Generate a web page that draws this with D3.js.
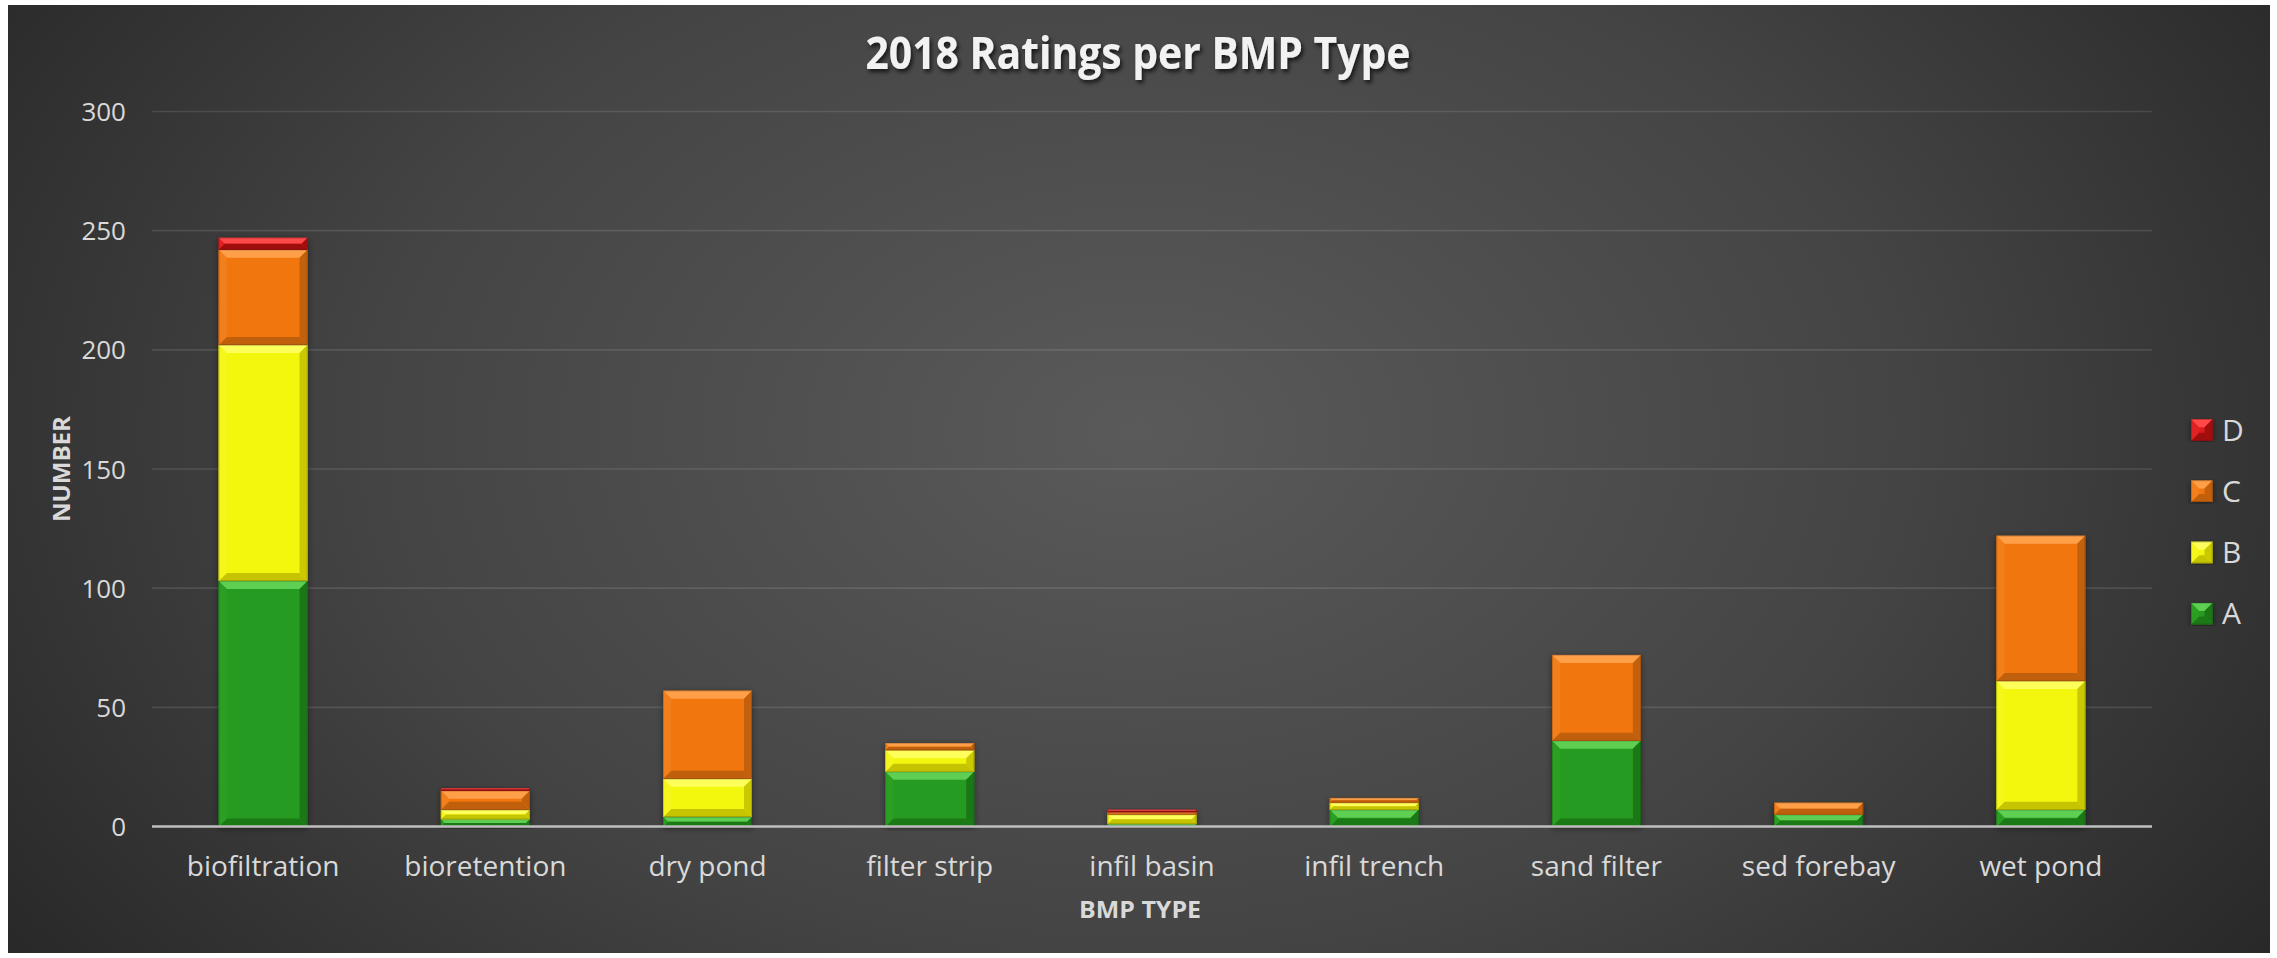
<!DOCTYPE html>
<html>
<head>
<meta charset="utf-8">
<title>2018 Ratings per BMP Type</title>
<script src="https://cdn.jsdelivr.net/npm/d3@7"></script>
<style>
  html, body { margin: 0; padding: 0; background: #ffffff; }
  svg { display: block; }
</style>
</head>
<body>
<svg id="chart" width="2277" height="958"></svg>
<script>
// Ratings counts per BMP type, one array per rating grade
const categories = ["biofiltration", "bioretention", "dry pond", "filter strip", "infil basin",
                    "infil trench", "sand filter", "sed forebay", "wet pond"];
const ratingA = [103, 3, 4, 23, 1, 7, 36, 5, 7];
const ratingB = [99, 4, 16, 9, 4, 3, 0, 0, 54];
const ratingC = [40, 8, 37, 3, 1, 2, 36, 5, 61];
const ratingD = [5, 1, 0, 0, 1, 0, 0, 0, 0];
const seriesNames = ["A", "B", "C", "D"];
const yTicks = [0, 50, 100, 150, 200, 250, 300];

// Bevel palette per grade: face, top, bottom, left, right
const palette = {
  A: { face: "#289b20", top: "#5ecf52", bottom: "#1f7a18", left: "#2a9f22", right: "#1e7817" },
  B: { face: "#f3f60a", top: "#ffff5c", bottom: "#c6c300", left: "#f5f71c", right: "#cac800" },
  C: { face: "#f07610", top: "#ffa04a", bottom: "#c0600c", left: "#f27e1a", right: "#c2600c" },
  D: { face: "#dc1a1c", top: "#ff4a4a", bottom: "#a00e10", left: "#e02224", right: "#a40f11" }
};

const W = 2277, H = 958;
const frame = { x: 8, y: 5, w: 2262, h: 948 };
const plot = { left: 152, right: 2152, top: 111.5, bottom: 826.5 };

const svg = d3.select("#chart");
const defs = svg.append("defs");

const bg = defs.append("radialGradient")
  .attr("id", "bgGrad")
  .attr("cx", "0.5").attr("cy", "0.45").attr("r", "0.62")
  .attr("gradientTransform", "translate(0.5,0.45) scale(1,1.6) translate(-0.5,-0.45)");
bg.append("stop").attr("offset", "0").attr("stop-color", "#5a5a5a");
bg.append("stop").attr("offset", "0.55").attr("stop-color", "#444444");
bg.append("stop").attr("offset", "1").attr("stop-color", "#272727");

const titleShadow = defs.append("filter").attr("id", "titleShadow")
  .attr("x", "-10%").attr("y", "-30%").attr("width", "120%").attr("height", "160%");
titleShadow.append("feDropShadow")
  .attr("dx", 2).attr("dy", 3).attr("stdDeviation", 2.2)
  .attr("flood-color", "#000").attr("flood-opacity", 0.7);

const barShadow = defs.append("filter").attr("id", "barShadow")
  .attr("x", "-20%").attr("y", "-5%").attr("width", "140%").attr("height", "110%");
barShadow.append("feDropShadow")
  .attr("dx", 0).attr("dy", 1.5).attr("stdDeviation", 3)
  .attr("flood-color", "#000").attr("flood-opacity", 0.45);

// Chart background
svg.append("rect")
  .attr("x", frame.x).attr("y", frame.y)
  .attr("width", frame.w).attr("height", frame.h)
  .attr("fill", "url(#bgGrad)");

// Scales
const x = d3.scaleBand()
  .domain(categories)
  .range([plot.left, plot.right])
  .paddingInner(0.6)
  .paddingOuter(0.3);

const y = d3.scaleLinear()
  .domain([0, 300])
  .range([plot.bottom, plot.top]);

// Gridlines
svg.append("g")
  .selectAll("line")
  .data(yTicks.filter(t => t > 0))
  .join("line")
  .attr("x1", plot.left).attr("x2", plot.right)
  .attr("y1", d => y(d)).attr("y2", d => y(d))
  .attr("stroke", "#ffffff").attr("stroke-opacity", 0.11)
  .attr("stroke-width", 1.6);

// Y axis tick labels
const yAxis = d3.axisLeft(y).tickValues(yTicks).tickSize(0).tickPadding(0);
const yAxisG = svg.append("g")
  .attr("transform", `translate(126,0)`)
  .call(yAxis);
yAxisG.select(".domain").remove();
yAxisG.selectAll("text")
  .attr("fill", "#d9d9d9")
  .attr("font-family", "'Open Sans', sans-serif")
  .attr("font-size", 26)
  .attr("dy", "0.35em");

// Stack the grades
const rows = categories.map((c, i) => ({
  category: c, A: ratingA[i], B: ratingB[i], C: ratingC[i], D: ratingD[i]
}));
const stacked = d3.stack().keys(seriesNames)(rows);

function beveled(g, x0, y0, w, h, col) {
  const x1 = x0 + w, y1 = y0 + h;
  const b = Math.max(0, Math.min(8, h / 2, w / 2));
  g.append("rect").attr("x", x0).attr("y", y0).attr("width", w).attr("height", h)
    .attr("fill", col.face);
  const poly = (pts, fill) => g.append("polygon")
    .attr("points", pts.map(p => p.join(",")).join(" "))
    .attr("fill", fill);
  poly([[x0, y0], [x1, y0], [x1 - b, y0 + b], [x0 + b, y0 + b]], col.top);
  poly([[x0, y1], [x1, y1], [x1 - b, y1 - b], [x0 + b, y1 - b]], col.bottom);
  poly([[x0, y0], [x0 + b, y0 + b], [x0 + b, y1 - b], [x0, y1]], col.left);
  poly([[x1, y0], [x1 - b, y0 + b], [x1 - b, y1 - b], [x1, y1]], col.right);
  g.append("rect").attr("x", x0 + 0.4).attr("y", y0 + 0.4)
    .attr("width", Math.max(0, w - 0.8)).attr("height", Math.max(0, h - 0.8))
    .attr("fill", "none").attr("stroke", "#000").attr("stroke-opacity", 0.2)
    .attr("stroke-width", 0.8);
}

// Bars
const barsG = svg.append("g");
categories.forEach((c, i) => {
  const colG = barsG.append("g").attr("filter", "url(#barShadow)");
  stacked.forEach(layer => {
    const seg = layer[i];
    const v = seg[1] - seg[0];
    if (v <= 0) return;
    const top = y(seg[1]), bot = y(seg[0]);
    beveled(colG, x(c), top, x.bandwidth(), bot - top, palette[layer.key]);
  });
});

// Category axis
svg.append("line")
  .attr("x1", plot.left).attr("x2", plot.right)
  .attr("y1", y(0)).attr("y2", y(0))
  .attr("stroke", "#bfbfbf").attr("stroke-width", 2.4);

const xAxis = d3.axisBottom(x).tickSize(0).tickPadding(0);
const xAxisG = svg.append("g")
  .attr("transform", `translate(0,${y(0)})`)
  .call(xAxis);
xAxisG.select(".domain").remove();
xAxisG.selectAll("text")
  .attr("fill", "#d9d9d9")
  .attr("font-family", "'Open Sans', sans-serif")
  .attr("font-size", 28)
  .attr("dy", "1.75em");

// Title
svg.append("text")
  .attr("x", 1138).attr("y", 69)
  .attr("text-anchor", "middle")
  .attr("fill", "#f2f2f2")
  .attr("font-family", "'Open Sans', sans-serif")
  .attr("font-weight", 700)
  .attr("font-size", 45)
  .attr("textLength", 545)
  .attr("lengthAdjust", "spacingAndGlyphs")
  .attr("filter", "url(#titleShadow)")
  .text("2018 Ratings per BMP Type");

// Axis titles
svg.append("text")
  .attr("x", 1140).attr("y", 918)
  .attr("text-anchor", "middle")
  .attr("fill", "#d9d9d9")
  .attr("font-family", "'Open Sans', sans-serif")
  .attr("font-weight", 700)
  .attr("font-size", 24)
  .attr("textLength", 122)
  .attr("lengthAdjust", "spacingAndGlyphs")
  .text("BMP TYPE");

svg.append("text")
  .attr("transform", `translate(70,${(plot.top + plot.bottom) / 2}) rotate(-90)`)
  .attr("text-anchor", "middle")
  .attr("fill", "#d9d9d9")
  .attr("font-family", "'Open Sans', sans-serif")
  .attr("font-weight", 700)
  .attr("font-size", 24)
  .attr("textLength", 106)
  .attr("lengthAdjust", "spacingAndGlyphs")
  .text("NUMBER");

// Legend (D on top, A at bottom)
const legendOrder = ["D", "C", "B", "A"];
const legendG = svg.append("g");
legendOrder.forEach((k, i) => {
  const cy = 430 + i * 61.2;
  const g = legendG.append("g").attr("filter", "url(#barShadow)");
  beveled(g, 2191, cy - 10.7, 21.5, 21.5, palette[k]);
  legendG.append("text")
    .attr("x", 2222).attr("y", cy)
    .attr("dy", "0.36em")
    .attr("fill", "#d9d9d9")
    .attr("font-family", "'Open Sans', sans-serif")
    .attr("font-size", 30)
    .text(k);
});
</script>
</body>
</html>
